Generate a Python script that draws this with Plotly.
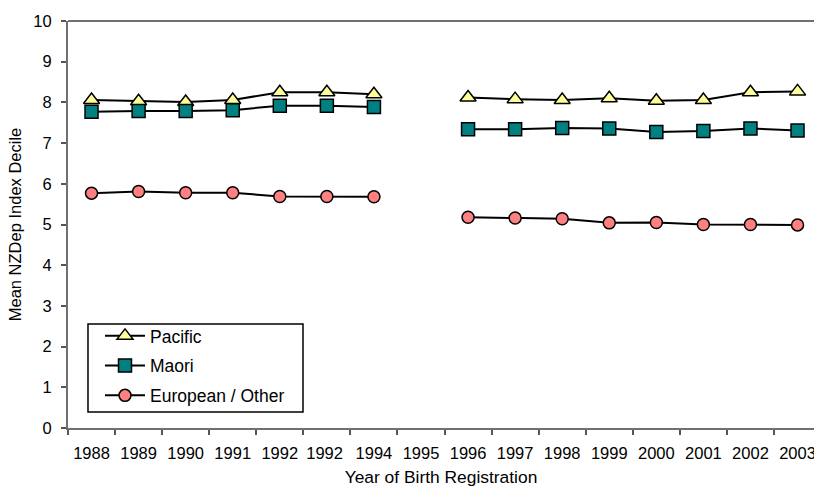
import plotly.graph_objects as go

years = ["1988", "1989", "1990", "1991", "1992", "1992 ", "1994", "1995",
         "1996", "1997", "1998", "1999", "2000", "2001", "2002", "2003"]
pacific = [8.06, 8.03, 8.01, 8.06, 8.25, 8.25, 8.20, None,
           8.12, 8.08, 8.06, 8.10, 8.04, 8.06, 8.25, 8.27]
maori = [7.77, 7.79, 7.79, 7.81, 7.92, 7.92, 7.89, None,
         7.34, 7.34, 7.37, 7.36, 7.27, 7.30, 7.36, 7.31]
european = [5.77, 5.81, 5.78, 5.78, 5.69, 5.69, 5.68, None,
            5.18, 5.16, 5.14, 5.04, 5.05, 5.00, 5.00, 4.99]

FONT = "Liberation Sans, Arial, sans-serif"
fig = go.Figure()
series = [
    ("Pacific", pacific, "triangle-up", "#FFFF99", 14),
    ("Maori", maori, "square", "#008080", 13),
    ("European / Other", european, "circle", "#FF8080", 12),
]
for name, vals, sym, col, sz in series:
    fig.add_trace(go.Scatter(
        x=years, y=vals, name=name, legendgroup=name, mode="lines+markers",
        connectgaps=False, cliponaxis=False,
        line=dict(color="black", width=2),
        marker=dict(symbol=sym, color=col, size=sz,
                    line=dict(color="black", width=1.5)),
    ))

fig.update_layout(
    width=814, height=487,
    margin=dict(l=68, r=0, t=21, b=59),
    paper_bgcolor="white", plot_bgcolor="white",
    font=dict(family=FONT, size=15, color="black"),
    showlegend=True,
    legend=dict(x=0.0429, y=0.2703, xanchor="left", yanchor="top",
                bgcolor="rgba(0,0,0,0)", borderwidth=0,
                font=dict(size=17.5, family=FONT), tracegroupgap=4,
                itemwidth=40),
    xaxis=dict(
        type="category", categoryorder="array", categoryarray=years,
        range=[-0.5, 15.35], automargin=False,
        tickson="boundaries", ticks="outside", ticklen=5, tickwidth=1.5,
        tickcolor="#555555", tickangle=0,
        showline=True, linecolor="#707070", linewidth=2,
        showgrid=False, zeroline=False,
        tickfont=dict(size=16.5, family=FONT),
        ticklabelstandoff=9,
        title=dict(text="Year of Birth Registration", font=dict(size=17.4, family=FONT),
                   standoff=14),
    ),
    yaxis=dict(
        range=[0, 10], dtick=1, tick0=0, automargin=False,
        ticks="outside", ticklen=5, tickwidth=1.5, tickcolor="#555555",
        showline=True, linecolor="#707070", linewidth=2,
        showgrid=False, zeroline=False,
        tickfont=dict(size=16.5, family=FONT),
        ticklabelstandoff=6,
        title=dict(text="Mean NZDep Index Decile", font=dict(size=16.5, family=FONT),
                   standoff=8),
    ),
    shapes=[
        dict(type="line", xref="paper", yref="paper", x0=0, x1=1, y0=1, y1=1,
             line=dict(color="#707070", width=2)),
        dict(type="rect", xref="paper", yref="paper", layer="below",
             x0=0.0268, x1=0.315, y0=0.0393, y1=0.2555,
             fillcolor="white", line=dict(color="black", width=1.5)),
    ],
)

fig.write_html(
    "out.html",
    config={"displayModeBar": False},
    post_script="document.body.style.margin='0';document.body.style.overflow='hidden';",
)
